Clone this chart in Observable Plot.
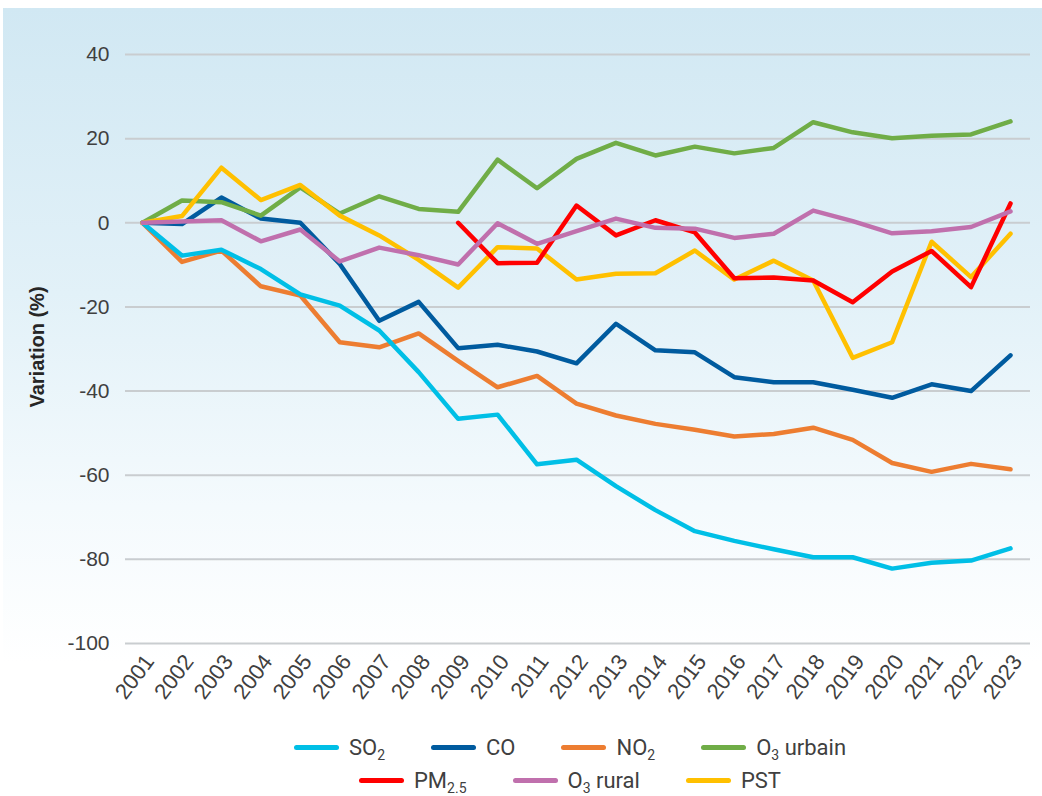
<!DOCTYPE html>
<html>
<head>
<meta charset="utf-8">
<script src="https://cdn.jsdelivr.net/npm/d3@7"></script>
<script src="https://cdn.jsdelivr.net/npm/@observablehq/plot@0.6"></script>
<style>
  html, body { margin: 0; padding: 0; background: #fff; }
  #wrap { position: relative; width: 1042px; height: 796px; overflow: hidden; }
  #bg { position: absolute; left: 3px; top: 8px; right: 0; height: 712px;
        background: linear-gradient(to bottom, #d1e8f3 0%, #e2f1f8 40%, #f4fafd 70%, #ffffff 92%); }
  #chart { position: absolute; left: 0; top: 0; }
  #ylabel { position: absolute; left: 37px; top: 347px; transform: translate(-50%, -50%) rotate(-90deg);
            font: 600 20px "Liberation Sans", Arial, sans-serif; color: #262626; white-space: nowrap; }
  #legend { position: absolute; left: 125px; width: 890px; top: 731px; font: 22px Roboto, sans-serif; color: #404040; }
  .row { display: flex; justify-content: center; gap: 46px; height: 33px; align-items: center; }
  .item { display: flex; align-items: center; }
  .sw { width: 45px; height: 5px; border-radius: 3px; margin-right: 10px; }
  sub { font-size: 14px; vertical-align: -5px; line-height: 0; }
</style>
</head>
<body>
<div id="wrap">
  <div id="bg"></div>
  <div id="chart"></div>
  <div id="ylabel">Variation (%)</div>
  <div id="legend"></div>
</div>
<script>
const years = [2001,2002,2003,2004,2005,2006,2007,2008,2009,2010,2011,2012,2013,2014,2015,2016,2017,2018,2019,2020,2021,2022,2023];
const yTicks = [40, 20, 0, -20, -40, -60, -80, -100];

const so2      = [0,-7.8,-6.4,-11,-17,-19.7,-25.6,-35.5,-46.6,-45.6,-57.4,-56.3,-62.6,-68.3,-73.3,-75.6,-77.6,-79.5,-79.5,-82.2,-80.8,-80.3,-77.4];
const co       = [0,-0.3,6,1,0,-9.8,-23.3,-18.8,-29.8,-29,-30.6,-33.4,-24,-30.3,-30.8,-36.7,-37.9,-37.9,-39.7,-41.6,-38.4,-40,-31.5];
const no2      = [0,-9.3,-6.6,-15.1,-17.3,-28.4,-29.6,-26.3,-32.8,-39.1,-36.4,-43,-45.8,-47.8,-49.2,-50.8,-50.2,-48.7,-51.6,-57.1,-59.2,-57.3,-58.6];
const o3urbain = [0,5.3,4.9,1.7,8.4,2.2,6.3,3.3,2.6,15,8.2,15.2,19,16,18.1,16.5,17.8,23.9,21.5,20.1,20.7,21,24.1];
const pm25     = [null,null,null,null,null,null,null,null,0,-9.6,-9.5,4.1,-3,0.6,-2.3,-13.2,-13,-13.7,-18.9,-11.6,-6.7,-15.3,4.6];
const o3rural  = [0,0.3,0.6,-4.4,-1.6,-9.2,-5.9,-7.7,-9.9,-0.1,-5,-2,1,-1.2,-1.4,-3.6,-2.6,2.9,0.4,-2.5,-2,-1,2.7];
const pst      = [0,1.6,13.1,5.4,9,1.7,-3,-8.8,-15.4,-5.8,-6.1,-13.5,-12.1,-12,-6.6,-13.5,-9,-13.7,-32.1,-28.4,-4.5,-12.9,-2.6];

const seriesNames  = ["SO2", "CO", "NO2", "O3 urbain", "PM2.5", "O3 rural", "PST"];
const seriesHtml   = ["SO<sub>2</sub>", "CO", "NO<sub>2</sub>", "O<sub>3</sub> urbain", "PM<sub>2.5</sub>", "O<sub>3</sub> rural", "PST"];
const seriesColors = ["#00bfe6", "#005b9f", "#ed7d31", "#70ad47", "#ff0000", "#c070ad", "#ffc000"];
const seriesValues = [so2, co, no2, o3urbain, pm25, o3rural, pst];
const drawOrder = [2, 1, 0, 3, 6, 4, 5];

const rows = [];
drawOrder.forEach(si => {
  seriesValues[si].forEach((v, i) => {
    if (v !== null) rows.push({year: years[i], value: v, name: seriesNames[si]});
  });
});

const chart = Plot.plot({
  width: 1042,
  height: 720,
  marginLeft: 125,
  marginRight: 12,
  marginTop: 54,
  marginBottom: 77,
  style: {background: "transparent", fontFamily: "'Liberation Sans', Arial, sans-serif", fontSize: "21px", color: "#404040"},
  x: {domain: [2001, 2023], insetLeft: 17, insetRight: 20},
  y: {domain: [-100, 40]},
  color: {domain: seriesNames, range: seriesColors},
  marks: [
    Plot.ruleY(yTicks, {stroke: "#c9cdd0", strokeWidth: 2}),
    Plot.axisY({ticks: yTicks, tickSize: 0, tickPadding: 16, tickFormat: d => String(d), label: null, fontSize: 21}),
    Plot.axisX({ticks: years, tickSize: 0, tickPadding: 14, dx: 7, tickRotate: -53, tickFormat: d => String(d), label: null, fontSize: 22}),
    Plot.lineY(rows, {x: "year", y: "value", z: "name", stroke: "name", strokeWidth: 4.5})
  ]
});
document.getElementById("chart").appendChild(chart);

const legend = document.getElementById("legend");
[[0,1,2,3],[4,5,6]].forEach(idx => {
  const row = document.createElement("div");
  row.className = "row";
  idx.forEach(i => {
    const it = document.createElement("div");
    it.className = "item";
    it.innerHTML = `<span class="sw" style="background:${seriesColors[i]}"></span><span>${seriesHtml[i]}</span>`;
    row.appendChild(it);
  });
  legend.appendChild(row);
});
</script>
</body>
</html>
